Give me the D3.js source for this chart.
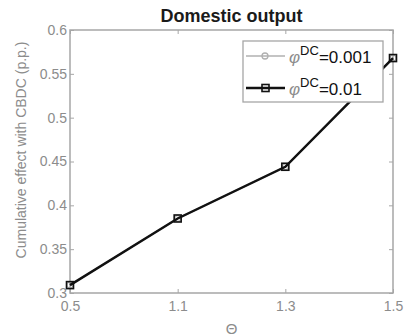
<!DOCTYPE html>
<html>
<head>
<meta charset="utf-8">
<script src="https://cdn.jsdelivr.net/npm/d3@7"></script>
<style>
body { margin: 0; background: #fff; }
text { font-family: "Liberation Sans", Arial, sans-serif; }
</style>
</head>
<body>
<div id="chart"></div>
<script>
// data
let thetaLabels = ["0.5", "1.1", "1.3", "1.5"]
let effectLow = [0.309, 0.385, 0.444, 0.568]   // phi^DC = 0.001 (hidden under the black line)
let effectHigh = [0.309, 0.385, 0.444, 0.568]  // phi^DC = 0.01
let yTicks = [0.3, 0.35, 0.4, 0.45, 0.5, 0.55, 0.6]
let seriesNames = ["0.001", "0.01"]

const W = 405, H = 336
const margin = {top: 30, right: 12, bottom: 43, left: 70}
const iw = W - margin.left - margin.right
const ih = H - margin.top - margin.bottom
const axisGrey = "#a6a6a6", labelGrey = "#8c8c8c"

var svg = d3.select("#chart").append("svg")
    .attr("width", W).attr("height", H)

var g = svg.append("g").attr("transform", `translate(${margin.left},${margin.top})`)

var x = d3.scalePoint().domain(thetaLabels).range([0, iw])
var y = d3.scaleLinear().domain([0.3, 0.6]).range([ih, 0])

// box
g.append("rect").attr("width", iw).attr("height", ih)
    .attr("fill", "none").attr("stroke", axisGrey).attr("stroke-width", 1.5)

// bottom axis + mirrored top ticks
let xAx = g.append("g").attr("transform", `translate(0,${ih})`)
    .call(d3.axisBottom(x).tickSize(-4).tickPadding(8))
let xTop = g.append("g").call(d3.axisTop(x).tickSize(-4).tickFormat(""))
let yAx = g.append("g").call(d3.axisLeft(y).tickValues(yTicks).tickSize(-4).tickPadding(3)
    .tickFormat(d => d3.format("")(+d.toFixed(2))))
let yRight = g.append("g").attr("transform", `translate(${iw},0)`)
    .call(d3.axisRight(y).tickValues(yTicks).tickSize(-4).tickFormat(""))

;[xAx, xTop, yAx, yRight].forEach(a => {
    a.select(".domain").remove()
    a.selectAll("line").attr("stroke", axisGrey)
    a.selectAll("text").attr("fill", labelGrey).style("font-size", "14px")
        .style("font-family", "Liberation Sans, Arial, sans-serif")
})

// series
var line = d3.line().x((d, i) => x(thetaLabels[i])).y(d => y(d))

g.append("path").datum(effectLow).attr("d", line)
    .attr("fill", "none").attr("stroke", "#b0b0b0").attr("stroke-width", 1.5)
g.selectAll(".mLow").data(effectLow).enter().append("circle")
    .attr("cx", (d, i) => x(thetaLabels[i])).attr("cy", d => y(d)).attr("r", 3)
    .attr("fill", "none").attr("stroke", "#b0b0b0").attr("stroke-width", 1.3)

g.append("path").datum(effectHigh).attr("d", line)
    .attr("fill", "none").attr("stroke", "#111").attr("stroke-width", 2.5)
g.selectAll(".mHigh").data(effectHigh).enter().append("rect")
    .attr("x", (d, i) => x(thetaLabels[i]) - 3.5).attr("y", d => y(d) - 3.5)
    .attr("width", 7).attr("height", 7)
    .attr("fill", "none").attr("stroke", "#111").attr("stroke-width", 1.6)

// title and axis labels
svg.append("text").attr("x", margin.left + iw / 2).attr("y", 22)
    .attr("text-anchor", "middle").style("font-size", "18px").style("font-weight", "bold")
    .attr("fill", "#1a1a1a").text("Domestic output")

svg.append("text").attr("transform", `translate(26,150) rotate(-90)`)
    .attr("text-anchor", "middle").style("font-size", "14px").attr("fill", labelGrey)
    .text("Cumulative effect with CBDC (p.p.)")

svg.append("text").attr("x", margin.left + iw / 2).attr("y", 334)
    .attr("text-anchor", "middle").style("font-size", "15px").attr("fill", labelGrey)
    .text("Θ")

// legend
var leg = svg.append("g").attr("transform", "translate(243,41)")
leg.append("rect").attr("width", 140).attr("height", 61)
    .attr("fill", "#fff").attr("stroke", axisGrey).attr("stroke-width", 1.3)

seriesNames.forEach(function(name, i) {
    let ly = 15 + i * 32
    let col = i == 0 ? "#b0b0b0" : "#111"
    leg.append("line").attr("x1", 3).attr("x2", 42).attr("y1", ly).attr("y2", ly)
        .attr("stroke", col).attr("stroke-width", i == 0 ? 1.5 : 2.5)
    if (i == 0) {
        leg.append("circle").attr("cx", 22).attr("cy", ly).attr("r", 3)
            .attr("fill", "none").attr("stroke", col).attr("stroke-width", 1.3)
    } else {
        leg.append("rect").attr("x", 19).attr("y", ly - 3.5).attr("width", 7).attr("height", 7)
            .attr("fill", "none").attr("stroke", col).attr("stroke-width", 1.6)
    }
    let t = leg.append("text").attr("x", 46).attr("y", ly + 7).style("font-size", "17px").attr("fill", "#111")
    t.append("tspan").text("φ").style("font-style", "italic").attr("fill", labelGrey)
    t.append("tspan").text("DC").attr("dy", -8).style("font-size", "13px")
    t.append("tspan").text("=" + name).attr("dy", 8)
})
</script>
</body>
</html>
